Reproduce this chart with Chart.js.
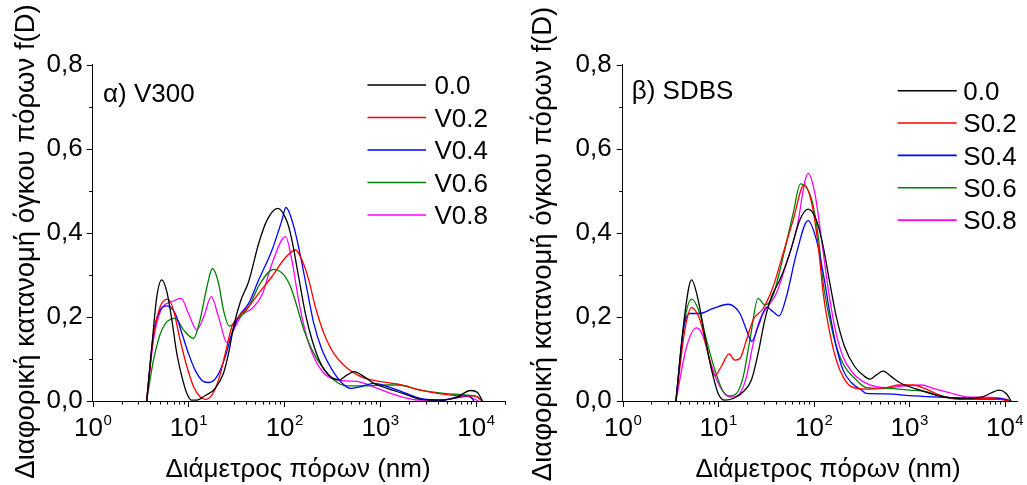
<!DOCTYPE html>
<html>
<head>
<meta charset="utf-8">
<script src="https://cdn.jsdelivr.net/npm/chart.js@4.4.1/dist/chart.umd.min.js"></script>
<style>
  html, body { margin: 0; padding: 0; background: #fff; }
  #wrap { position: relative; width: 1027px; height: 485px; overflow: hidden; }
  canvas { position: absolute; top: 0; }
  #left { left: 0; }
  #right { left: 515px; }
</style>
</head>
<body>
<div id="wrap">
  <canvas id="left" width="515" height="485"></canvas>
  <canvas id="right" width="512" height="485"></canvas>
</div>
<script>
const FONT = '"Liberation Sans", Arial, sans-serif';
const COLORS = ["#000000", "#ff0000", "#0000ff", "#008000", "#ff00ff"];
const V_LABELS = ["0.0", "V0.2", "V0.4", "V0.6", "V0.8"];
const S_LABELS = ["0.0", "S0.2", "S0.4", "S0.6", "S0.8"];
const Y_TICKS = [0, 0.2, 0.4, 0.6, 0.8];
const X_DECADES = [0, 1, 2, 3, 4];

// α) V300 — pore diameter (nm) and f(D)
const v00D = [3.66, 4.14, 4.67, 5.26, 5.94, 6.70, 7.55, 8.53, 9.62, 10.8, 12.2, 15.0, 19.0, 23.2, 26.2, 29.6, 34.8, 42.5, 54.1, 66.1, 85.3, 107, 120, 141, 166, 195, 239, 303, 372, 454, 532, 678, 863, 1190, 1780, 2630, 4300, 6410, 8830, 10400, 11700];
const v00F = [0, 0.129, 0.248, 0.288, 0.26, 0.193, 0.113, 0.058, 0.018, 0.002, 0.002, 0.013, 0.03, 0.066, 0.113, 0.177, 0.236, 0.284, 0.375, 0.43, 0.458, 0.426, 0.383, 0.296, 0.208, 0.145, 0.09, 0.058, 0.05, 0.062, 0.07, 0.058, 0.042, 0.03, 0.017, 0.004, 0.002, 0.01, 0.025, 0.02, 0];
const v02D = [3.66, 4.31, 5.06, 6.08, 6.97, 8.18, 9.62, 11.3, 13.2, 15.0, 17.5, 20.6, 24.2, 28.4, 33.3, 42.5, 54.1, 74.5, 102, 131, 153, 180, 211, 259, 329, 454, 627, 1010, 1550, 2650, 4300, 6950, 9550, 11700];
const v02F = [0, 0.153, 0.224, 0.242, 0.216, 0.145, 0.082, 0.034, 0.01, 0.004, 0.014, 0.05, 0.113, 0.177, 0.2, 0.224, 0.256, 0.296, 0.34, 0.359, 0.335, 0.288, 0.224, 0.161, 0.113, 0.078, 0.058, 0.046, 0.04, 0.026, 0.017, 0.012, 0.012, 0];
const v04D = [3.66, 4.31, 5.06, 5.94, 7.26, 8.53, 10.0, 11.7, 14.4, 16.2, 19.8, 24.2, 28.4, 33.3, 42.5, 54.1, 74.5, 94.6, 104, 126, 148, 173, 203, 248, 316, 403, 490, 627, 863, 1290, 1780, 2630, 4300, 6950, 8510, 9550];
const v04F = [0, 0.161, 0.216, 0.226, 0.208, 0.161, 0.113, 0.074, 0.046, 0.044, 0.058, 0.105, 0.161, 0.2, 0.232, 0.288, 0.359, 0.43, 0.46, 0.414, 0.343, 0.264, 0.185, 0.121, 0.074, 0.042, 0.03, 0.034, 0.042, 0.032, 0.02, 0.006, 0.002, 0.009, 0.012, 0];
const v06D = [3.66, 4.31, 5.26, 7.26, 8.87, 11.3, 13.2, 15.6, 17.8, 20.6, 23.2, 26.7, 32.1, 42.5, 56.2, 77.6, 98.9, 116, 136, 160, 195, 248, 329, 454, 735, 1190, 1550, 2630, 4650, 8130, 10400, 11700];
const v06F = [0, 0.097, 0.169, 0.197, 0.169, 0.149, 0.193, 0.272, 0.315, 0.28, 0.216, 0.178, 0.193, 0.224, 0.28, 0.313, 0.3, 0.272, 0.224, 0.169, 0.121, 0.082, 0.05, 0.036, 0.036, 0.038, 0.038, 0.026, 0.018, 0.014, 0.01, 0];
const v08D = [3.66, 4.31, 5.26, 6.70, 8.39, 10.0, 12.2, 14.4, 17.3, 20.6, 25.2, 30.8, 36.1, 46.0, 58.5, 74.5, 103, 120, 141, 166, 203, 259, 329, 454, 627, 863, 1290, 1780, 2630, 4300, 7590, 10000, 10700];
const v08F = [0, 0.145, 0.22, 0.236, 0.244, 0.208, 0.169, 0.2, 0.248, 0.2, 0.139, 0.177, 0.204, 0.22, 0.252, 0.327, 0.391, 0.335, 0.24, 0.165, 0.105, 0.066, 0.052, 0.048, 0.045, 0.033, 0.018, 0.008, 0.002, 0.002, 0.012, 0.003, 0];

// β) SDBS
const s00D = [3.61, 4.48, 5.26, 6.18, 7.26, 8.53, 10.0, 11.7, 14.4, 18.3, 22.3, 26.2, 30.8, 36.2, 44.3, 56.2, 71.6, 87.5, 107, 126, 148, 173, 211, 269, 343, 387, 454, 533, 652, 794, 1290, 2090, 3390, 5890, 8830, 10400, 11700];
const s00F = [0, 0.208, 0.288, 0.24, 0.153, 0.074, 0.018, 0.002, 0.006, 0.022, 0.05, 0.113, 0.193, 0.248, 0.288, 0.351, 0.43, 0.456, 0.43, 0.367, 0.28, 0.2, 0.129, 0.082, 0.058, 0.052, 0.062, 0.071, 0.058, 0.044, 0.026, 0.012, 0.006, 0.01, 0.026, 0.018, 0];
const s02D = [3.61, 4.48, 5.26, 6.43, 7.55, 9.23, 10.8, 13.0, 15.0, 16.9, 19.8, 23.3, 29.6, 37.7, 47.9, 61.0, 79.4, 95.5, 112, 126, 148, 173, 203, 248, 356, 578, 794, 1100, 1510, 2090, 3090, 5370, 8830, 11200];
const s02F = [0, 0.169, 0.222, 0.193, 0.129, 0.06, 0.082, 0.112, 0.097, 0.101, 0.145, 0.193, 0.22, 0.272, 0.351, 0.43, 0.514, 0.47, 0.367, 0.256, 0.161, 0.097, 0.058, 0.034, 0.028, 0.032, 0.038, 0.038, 0.028, 0.014, 0.006, 0.006, 0.004, 0];
const s04D = [3.61, 4.31, 5.06, 6.43, 8.87, 12.7, 16.9, 19.8, 22.5, 26.2, 32.1, 37.7, 43.4, 51.9, 66.1, 87.5, 107, 126, 148, 173, 203, 248, 316, 356, 578, 1010, 1780, 2880, 5890, 8830, 11200];
const s04F = [0, 0.169, 0.208, 0.208, 0.22, 0.23, 0.208, 0.169, 0.142, 0.177, 0.223, 0.212, 0.202, 0.248, 0.351, 0.429, 0.383, 0.304, 0.208, 0.129, 0.074, 0.044, 0.026, 0.018, 0.017, 0.013, 0.01, 0.008, 0.006, 0.006, 0];
const s06D = [3.61, 4.48, 5.26, 6.43, 7.55, 9.23, 11.3, 13.2, 15.6, 18.3, 21.5, 26.2, 30.8, 37.7, 47.9, 61.0, 72.8, 95.5, 112, 126, 148, 173, 211, 269, 356, 578, 1010, 1510, 2260, 3390, 10400, 11700];
const s06F = [0, 0.193, 0.242, 0.208, 0.145, 0.074, 0.022, 0.012, 0.018, 0.058, 0.145, 0.244, 0.228, 0.252, 0.343, 0.446, 0.516, 0.478, 0.39, 0.28, 0.193, 0.129, 0.082, 0.054, 0.032, 0.03, 0.026, 0.022, 0.009, 0.004, 0.004, 0];
const s08D = [3.61, 4.67, 5.94, 6.97, 8.18, 10.0, 11.7, 13.8, 16.9, 19.8, 23.3, 27.3, 32.1, 40.7, 51.9, 66.1, 87.5, 103, 120, 141, 166, 203, 259, 356, 578, 933, 1350, 1780, 2630, 3980, 6310, 9330, 11700];
const s08F = [0, 0.129, 0.174, 0.153, 0.097, 0.042, 0.018, 0.009, 0.018, 0.058, 0.137, 0.193, 0.22, 0.256, 0.327, 0.407, 0.541, 0.494, 0.39, 0.272, 0.177, 0.105, 0.066, 0.042, 0.032, 0.036, 0.038, 0.03, 0.02, 0.01, 0.009, 0.006, 0];

function makeSeries(labels, pairs) {
  return pairs.map(([d, f], i) => ({
    label: labels[i],
    data: d.map((x, j) => ({ x, y: f[j] })),
    borderColor: COLORS[i],
    borderWidth: 1.3,
    pointRadius: 0,
    fill: false,
    cubicInterpolationMode: "monotone"
  }));
}

// ticks, superscript decade labels, titles and the in-plot legend
const decor = {
  id: "decor",
  afterDraw(chart, args, o) {
    const ctx = chart.ctx;
    const { x, y } = chart.scales;
    const area = chart.chartArea;
    ctx.save();
    ctx.strokeStyle = "#000";
    ctx.lineWidth = 1;
    ctx.beginPath();
    for (const k of X_DECADES) {
      for (let m = 1; m <= 9; m++) {
        const v = m * Math.pow(10, k);
        if (v < x.min || v > x.max) continue;
        const px = Math.round(x.getPixelForValue(v)) + 0.5;
        ctx.moveTo(px, area.bottom);
        ctx.lineTo(px, area.bottom + (m === 1 ? 6 : 3.5));
      }
    }
    if (2e4 <= x.max) {
      const px = Math.round(x.getPixelForValue(2e4)) + 0.5;
      ctx.moveTo(px, area.bottom);
      ctx.lineTo(px, area.bottom + 3.5);
    }
    for (let i = 0; i <= 8; i++) {
      const py = Math.round(y.getPixelForValue(i / 10)) + 0.5;
      ctx.moveTo(area.left, py);
      ctx.lineTo(area.left - (i % 2 ? 3.5 : 6), py);
    }
    ctx.stroke();

    ctx.fillStyle = "#000";
    ctx.textBaseline = "alphabetic";
    ctx.textAlign = "left";
    for (const k of X_DECADES) {
      const px = x.getPixelForValue(Math.pow(10, k));
      ctx.font = "26px " + FONT;
      const w1 = ctx.measureText("10").width;
      ctx.font = "15px " + FONT;
      const w2 = ctx.measureText(String(k)).width;
      const x0 = px - (w1 + w2) / 2;
      ctx.font = "26px " + FONT;
      ctx.fillText("10", x0, 436);
      ctx.font = "15px " + FONT;
      ctx.fillText(String(k), x0 + w1 + 0.5, 425);
    }

    ctx.font = "26px " + FONT;
    ctx.textAlign = "center";
    ctx.fillText("Διάμετρος πόρων (nm)", o.xTitleX, 477);

    ctx.save();
    ctx.font = "27.5px " + FONT;
    ctx.translate(o.yTitleX, o.yTitleY);
    ctx.rotate(-Math.PI / 2);
    ctx.fillText("Διαφορική κατανομή όγκου πόρων f(D)", 0, 0);
    ctx.restore();

    ctx.textAlign = "left";
    ctx.fillText(o.panel, o.panelX, o.panelY);

    chart.data.datasets.forEach((ds, i) => {
      const ly = o.legendY + i * o.legendGap;
      ctx.strokeStyle = ds.borderColor;
      ctx.lineWidth = 1.6;
      ctx.beginPath();
      ctx.moveTo(o.legendX0, ly);
      ctx.lineTo(o.legendX1, ly);
      ctx.stroke();
      ctx.fillStyle = "#000";
      ctx.fillText(ds.label, o.legendTextX, ly + 9.3);
    });
    ctx.restore();
  }
};

function buildChart(id, datasets, cfg) {
  return new Chart(document.getElementById(id), {
    type: "line",
    data: { datasets },
    plugins: [decor],
    options: {
      responsive: false,
      animation: false,
      events: [],
      layout: { padding: { left: 0, right: cfg.padRight, top: 64.5, bottom: 0 } },
      plugins: {
        legend: { display: false },
        tooltip: { enabled: false },
        decor: cfg.decor
      },
      scales: {
        x: {
          type: "logarithmic",
          min: 1,
          max: cfg.xMax,
          grid: { display: false, drawTicks: false },
          border: { display: true, color: "#000", width: 1 },
          ticks: { display: false },
          afterFit: (s) => { s.height = 84; }
        },
        y: {
          type: "linear",
          min: 0,
          max: 0.8,
          afterBuildTicks: (s) => { s.ticks = Y_TICKS.map((v) => ({ value: v })); },
          grid: { display: false, drawTicks: false },
          border: { display: true, color: "#000", width: 1 },
          ticks: {
            padding: cfg.yPad,
            color: "#000",
            font: { family: FONT, size: 26 },
            callback: (v) => Number(v).toFixed(1).replace(".", ",")
          },
          afterFit: (s) => { s.width = cfg.axisLeft; }
        }
      }
    }
  });
}

buildChart("left", makeSeries(V_LABELS, [[v00D, v00F], [v02D, v02F], [v04D, v04F], [v06D, v06F], [v08D, v08F]]), {
  xMax: 2e4,
  padRight: 10.3,
  axisLeft: 92.7,
  yPad: 10,
  decor: {
    xTitleX: 298, yTitleX: 33.5, yTitleY: 241.5,
    panel: "α) V300", panelX: 103, panelY: 101.7,
    legendX0: 367.5, legendX1: 426, legendTextX: 434.4, legendY: 85, legendGap: 32.5
  }
});

buildChart("right", makeSeries(S_LABELS, [[s00D, s00F], [s02D, s02F], [s04D, s04F], [s06D, s06F], [s08D, s08F]]), {
  xMax: 1.35e4,
  padRight: 10,
  axisLeft: 107.7,
  yPad: 11,
  decor: {
    xTitleX: 313, yTitleX: 36, yTitleY: 244,
    panel: "β) SDBS", panelX: 116.7, panelY: 99,
    legendX0: 382.7, legendX1: 441.7, legendTextX: 448.3, legendY: 90.7, legendGap: 32.35
  }
});
</script>
</body>
</html>
